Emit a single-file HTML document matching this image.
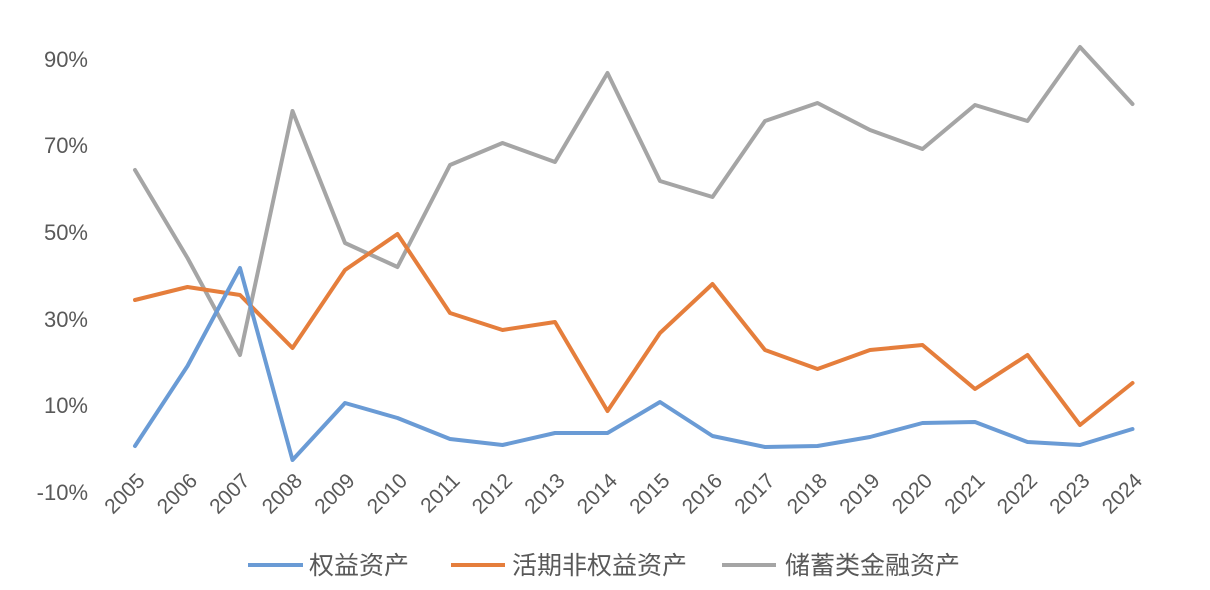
<!DOCTYPE html>
<html><head><meta charset="utf-8"><style>
html,body{margin:0;padding:0;background:#fff;}
svg{display:block;}
text{font-family:"Liberation Sans","Noto Sans CJK SC",sans-serif;fill:#595959;}
</style></head><body>
<svg width="1210" height="590" viewBox="0 0 1210 590">
<g font-size="22" text-anchor="end">
<text x="88" y="67">90%</text>
<text x="88" y="153">70%</text>
<text x="88" y="240">50%</text>
<text x="88" y="327">30%</text>
<text x="88" y="413">10%</text>
<text x="88" y="500">-10%</text>
</g>
<g font-size="21" text-anchor="end">
<text transform="translate(146,482) rotate(-45)">2005</text>
<text transform="translate(198.5,482) rotate(-45)">2006</text>
<text transform="translate(251,482) rotate(-45)">2007</text>
<text transform="translate(303.5,482) rotate(-45)">2008</text>
<text transform="translate(356,482) rotate(-45)">2009</text>
<text transform="translate(408.5,482) rotate(-45)">2010</text>
<text transform="translate(461,482) rotate(-45)">2011</text>
<text transform="translate(513.5,482) rotate(-45)">2012</text>
<text transform="translate(566,482) rotate(-45)">2013</text>
<text transform="translate(618.5,482) rotate(-45)">2014</text>
<text transform="translate(671,482) rotate(-45)">2015</text>
<text transform="translate(723.5,482) rotate(-45)">2016</text>
<text transform="translate(776,482) rotate(-45)">2017</text>
<text transform="translate(828.5,482) rotate(-45)">2018</text>
<text transform="translate(881,482) rotate(-45)">2019</text>
<text transform="translate(933.5,482) rotate(-45)">2020</text>
<text transform="translate(986,482) rotate(-45)">2021</text>
<text transform="translate(1038.5,482) rotate(-45)">2022</text>
<text transform="translate(1091,482) rotate(-45)">2023</text>
<text transform="translate(1143.5,482) rotate(-45)">2024</text>
</g>
<g fill="none" stroke-width="4" stroke-linejoin="round" stroke-linecap="round">
<polyline stroke="#A5A5A5" points="135,170 187.5,258 240,355 292.5,111 345,243 397.5,267 450,165 502.5,143 555,162 607.5,73 660,181 712.5,197 765,121 817.5,103 870,130 922.5,149 975,105 1027.5,121 1080,47 1132.5,104"/>
<polyline stroke="#E57E3C" points="135,300 187.5,287 240,295 292.5,348 345,270 397.5,234 450,313 502.5,330 555,322 607.5,411 660,333 712.5,284 765,350 817.5,369 870,350 922.5,345 975,389 1027.5,355 1080,425 1132.5,383"/>
<polyline stroke="#6A9BD5" points="135,446 187.5,366 240,268 292.5,460 345,403 397.5,418 450,439 502.5,445 555,433 607.5,433 660,402 712.5,436 765,447 817.5,446 870,437 922.5,423 975,422 1027.5,442 1080,445 1132.5,429"/>
</g>
<g stroke-width="4">
<line x1="248" y1="565" x2="303" y2="565" stroke="#6A9BD5"/>
<line x1="451" y1="565" x2="505" y2="565" stroke="#E57E3C"/>
<line x1="722" y1="565" x2="776" y2="565" stroke="#A5A5A5"/>
</g>
<g font-size="25">
<text x="309" y="574">权益资产</text>
<text x="512" y="574">活期非权益资产</text>
<text x="785" y="574">储蓄类金融资产</text>
</g>
</svg>
</body></html>
